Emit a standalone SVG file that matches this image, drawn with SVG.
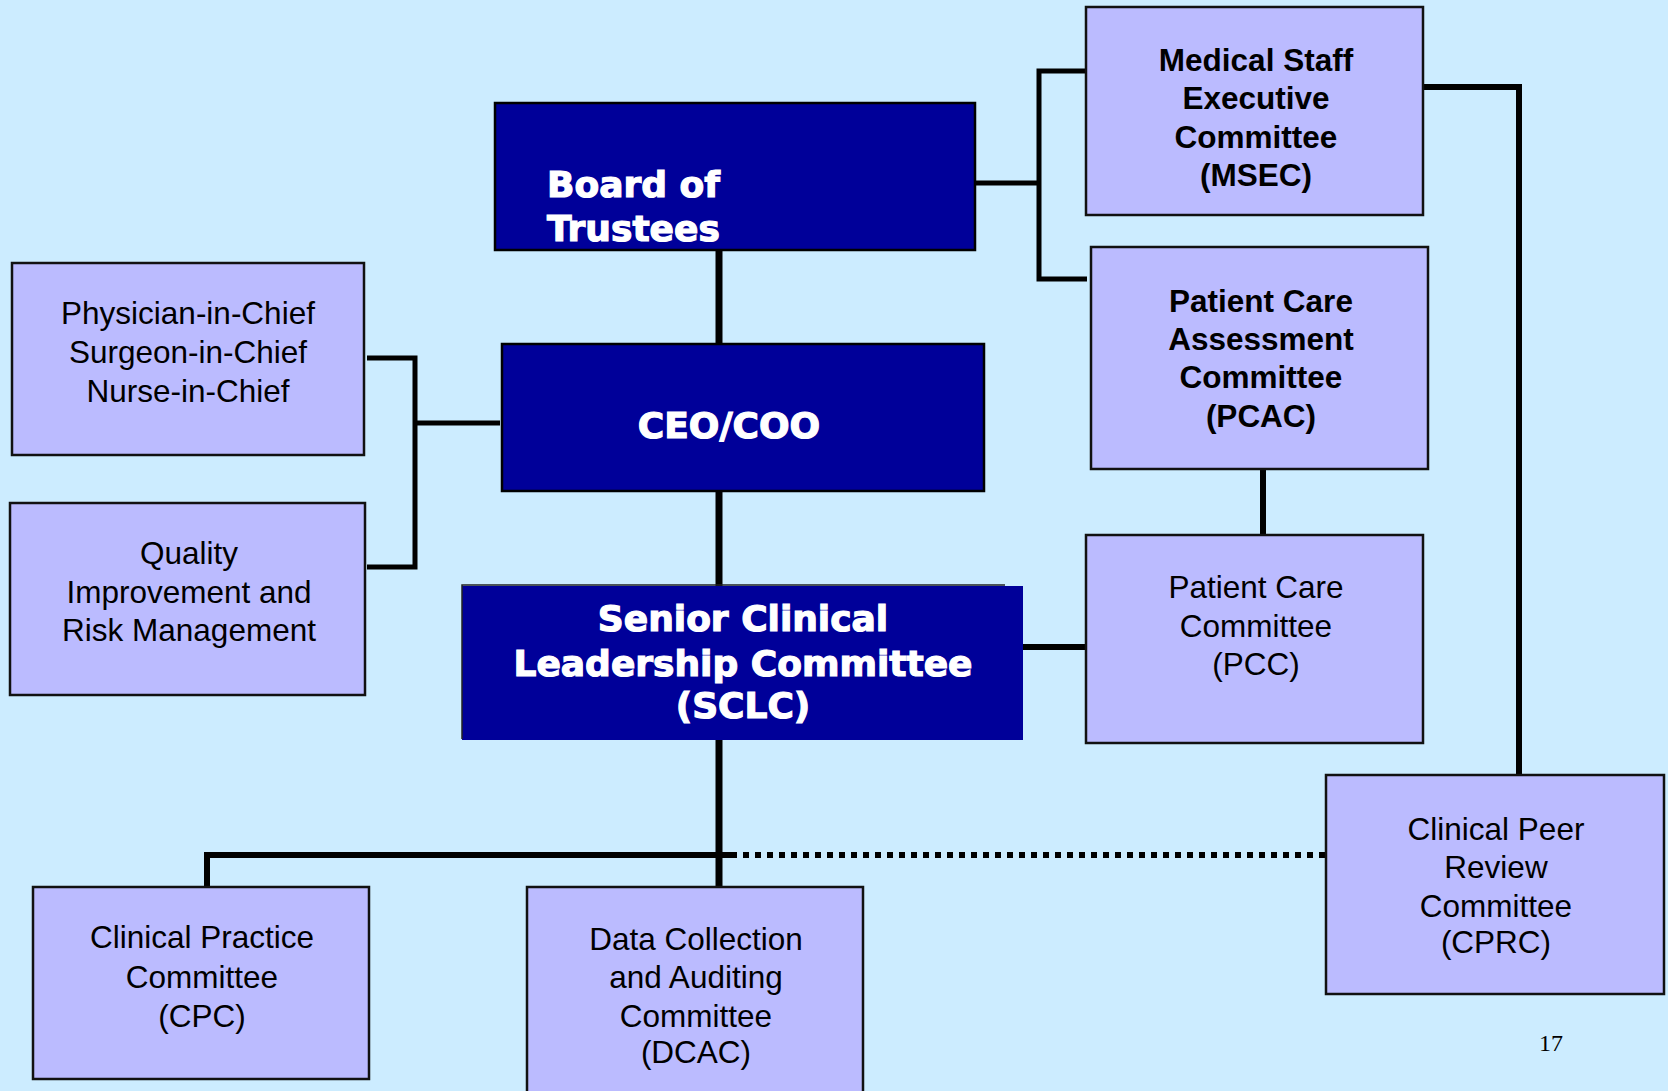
<svg xmlns="http://www.w3.org/2000/svg" width="1668" height="1091" viewBox="0 0 1668 1091">
  <style>
    .bg { fill: #CCECFF; }
    .dark { fill: #000099; stroke: #000; stroke-width: 2.5; }
    .light { fill: #BBBBFF; stroke: #111; stroke-width: 2.5; }
    .tw { font-family: "DejaVu Sans", "Liberation Sans", sans-serif; font-weight: bold; font-size: 36px; fill: #fff; stroke: #fff; stroke-width: 1.2; }
    .tb { font-family: "Liberation Sans", Arial, sans-serif; font-weight: bold; font-size: 31.5px; fill: #000; text-anchor: middle; }
    .tr { font-family: "Liberation Sans", Arial, sans-serif; font-size: 31.5px; fill: #000; text-anchor: middle; }
    .ln { fill: none; stroke: #000; stroke-width: 6; }
    .thin { fill: none; stroke: #000; stroke-width: 5; }
    .dot { fill: none; stroke: #000; stroke-width: 6; stroke-dasharray: 6 6; }
    .pg { font-family: "Liberation Serif", "Times New Roman", serif; font-size: 24px; fill: #000; }
  </style>

  <rect class="bg" x="0" y="0" width="1668" height="1091"/>

  <!-- connectors -->
  <g id="connectors">
    <!-- main spine -->
    <line class="ln" x1="719" y1="250" x2="719" y2="344" style="stroke-width:7"/>
    <line class="ln" x1="719" y1="491" x2="719" y2="586" style="stroke-width:7"/>
    <line class="ln" x1="719" y1="740" x2="719" y2="887" style="stroke-width:7"/>
    <!-- bottom branch to CPC -->
    <polyline class="ln" points="207,887 207,855 737,855"/>
    <!-- dotted link to CPRC -->
    <line class="dot" x1="743" y1="855" x2="1326" y2="855"/>
    <!-- SCLC to PCC -->
    <line class="ln" x1="1023" y1="647" x2="1090" y2="647"/>
    <!-- PCAC to PCC -->
    <line class="ln" x1="1263" y1="469" x2="1263" y2="535"/>
    <!-- Board to MSEC / PCAC bracket -->
    <line class="thin" x1="975" y1="183" x2="1041" y2="183"/>
    <polyline class="thin" points="1087,71 1039,71 1039,279 1087,279"/>
    <!-- MSEC to CPRC -->
    <polyline class="ln" points="1423,87 1519,87 1519,775"/>
    <!-- left bracket to CEO -->
    <polyline class="thin" points="367,358 415,358 415,567 367,567"/>
    <line class="thin" x1="415" y1="423" x2="500" y2="423"/>
  </g>

  <g id="board">
    <rect class="dark" x="495" y="103" width="480" height="147"/>
    <text class="tw" x="547" y="197">Board of</text>
    <text class="tw" x="547" y="241">Trustees</text>
  </g>

  <g id="ceo">
    <rect class="dark" x="502" y="344" width="482" height="147"/>
    <text class="tw" x="729" y="438" text-anchor="middle">CEO/COO</text>
  </g>

  <g id="sclc">
    <rect x="462" y="586" width="561" height="154" fill="#000099"/>
    <polyline points="462,739 462,585 1005,585" fill="none" stroke="#222" stroke-width="1.5"/>
    <text class="tw" x="743" y="631" text-anchor="middle">Senior Clinical</text>
    <text class="tw" x="743" y="676" text-anchor="middle">Leadership Committee</text>
    <text class="tw" x="743" y="718" text-anchor="middle">(SCLC)</text>
  </g>

  <g id="msec">
    <rect class="light" x="1086" y="7" width="337" height="208"/>
    <text class="tb" x="1256" y="71">Medical Staff</text>
    <text class="tb" x="1256" y="109">Executive</text>
    <text class="tb" x="1256" y="148">Committee</text>
    <text class="tb" x="1256" y="186">(MSEC)</text>
  </g>

  <g id="pcac">
    <rect class="light" x="1091" y="247" width="337" height="222"/>
    <text class="tb" x="1261" y="312">Patient Care</text>
    <text class="tb" x="1261" y="350">Assessment</text>
    <text class="tb" x="1261" y="388">Committee</text>
    <text class="tb" x="1261" y="427">(PCAC)</text>
  </g>

  <g id="pcc">
    <rect class="light" x="1086" y="535" width="337" height="208"/>
    <text class="tr" x="1256" y="598">Patient Care</text>
    <text class="tr" x="1256" y="637">Committee</text>
    <text class="tr" x="1256" y="675">(PCC)</text>
  </g>

  <g id="chiefs">
    <rect class="light" x="12" y="263" width="352" height="192"/>
    <text class="tr" x="188" y="324">Physician-in-Chief</text>
    <text class="tr" x="188" y="363">Surgeon-in-Chief</text>
    <text class="tr" x="188" y="402">Nurse-in-Chief</text>
  </g>

  <g id="quality">
    <rect class="light" x="10" y="503" width="355" height="192"/>
    <text class="tr" x="189" y="564">Quality</text>
    <text class="tr" x="189" y="603">Improvement and</text>
    <text class="tr" x="189" y="641">Risk Management</text>
  </g>

  <g id="cprc">
    <rect class="light" x="1326" y="775" width="338" height="219"/>
    <text class="tr" x="1496" y="840">Clinical Peer</text>
    <text class="tr" x="1496" y="878">Review</text>
    <text class="tr" x="1496" y="917">Committee</text>
    <text class="tr" x="1496" y="953">(CPRC)</text>
  </g>

  <g id="cpc">
    <rect class="light" x="33" y="887" width="336" height="192"/>
    <text class="tr" x="202" y="948">Clinical Practice</text>
    <text class="tr" x="202" y="988">Committee</text>
    <text class="tr" x="202" y="1027">(CPC)</text>
  </g>

  <g id="dcac">
    <rect class="light" x="527" y="887" width="336" height="215"/>
    <text class="tr" x="696" y="950">Data Collection</text>
    <text class="tr" x="696" y="988">and Auditing</text>
    <text class="tr" x="696" y="1027">Committee</text>
    <text class="tr" x="696" y="1063">(DCAC)</text>
  </g>

  <text class="pg" x="1539" y="1051">17</text>
</svg>
